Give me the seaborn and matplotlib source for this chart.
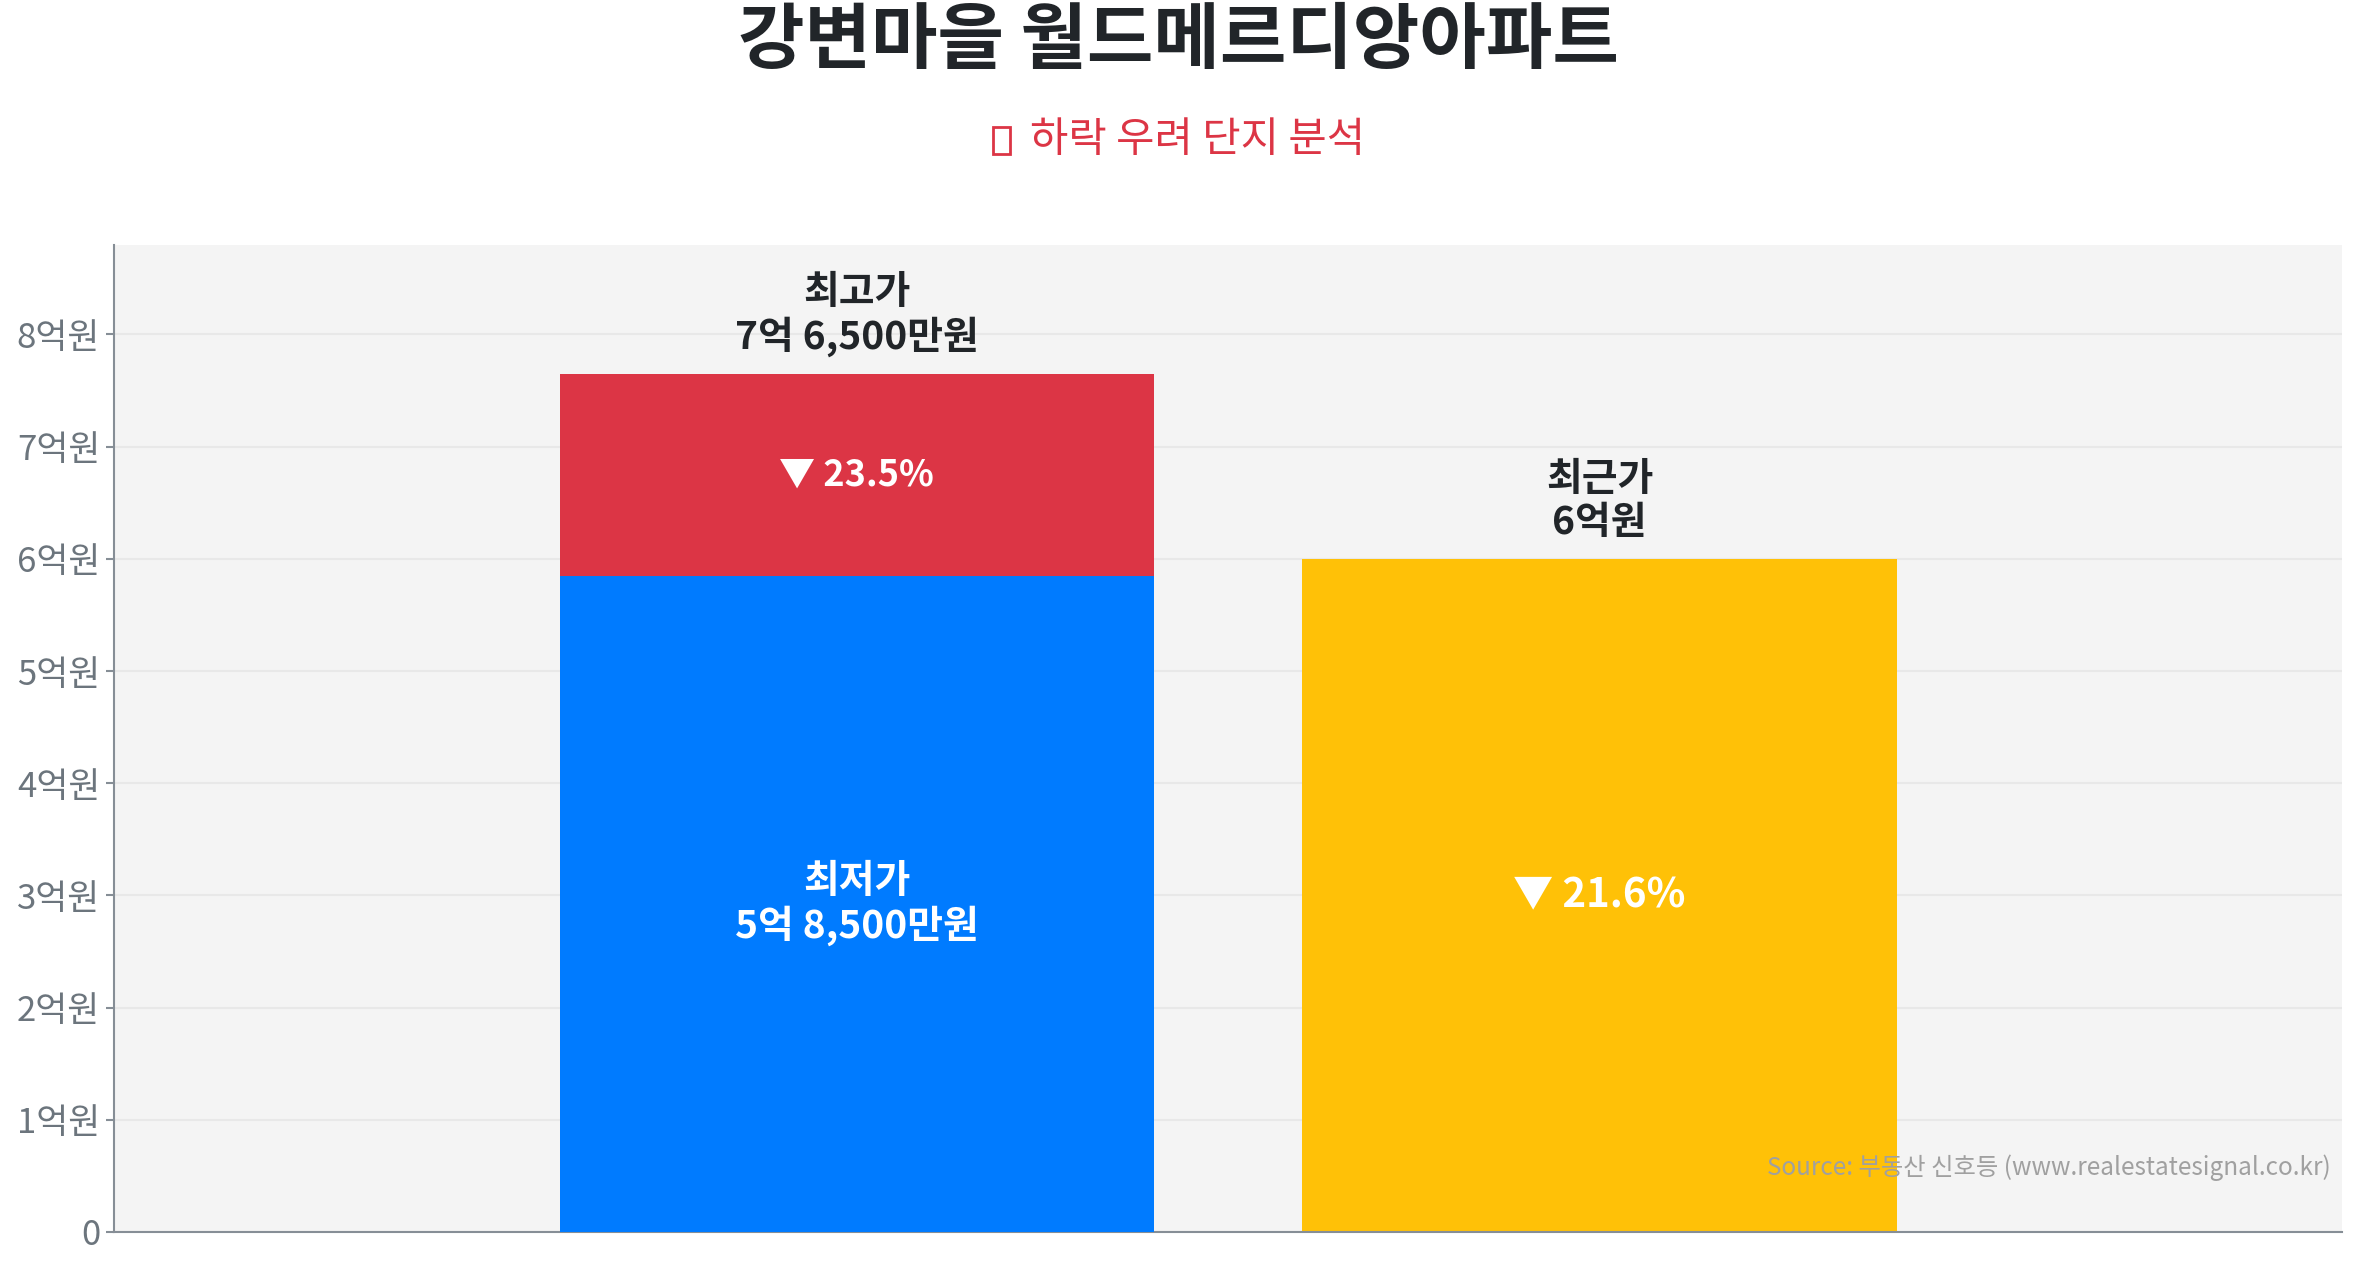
import matplotlib
matplotlib.use("Agg")
import matplotlib.pyplot as plt
from matplotlib.patches import Rectangle
import seaborn as sns

# prices in 만원
slots = ["최고가", "최근가"]
peak_price = 76500
low_price = 58500
recent_price = 60000

title_text = "강변마을 월드메르디앙아파트"
subtitle_text = "하락 우려 단지 분석"  # preceded by a chart emoji, drawn as an empty box
source_text = "Source: 부동산 신호등 (www.realestatesignal.co.kr)"
ytick_values = [0, 10000, 20000, 30000, 40000, 50000, 60000, 70000, 80000]

RED = "#dc3545"
BLUE = "#007bff"
YELLOW = "#ffc107"
DARK = "#212529"
GRAY = "#6c757d"

sns.set_theme(style="white")
plt.rcParams["font.family"] = ["Noto Sans CJK KR", "DejaVu Sans"]


def fmt_price(v):
    eok, man = divmod(int(v), 10000)
    if man:
        return f"{eok}억 {man:,}만원"
    return f"{eok}억원"


def fmt_tick(v):
    return "0" if v == 0 else f"{int(v // 10000)}억원"


fig = plt.figure(figsize=(23.57, 12.68), dpi=100)
ax = fig.add_axes([0.0484, 0.0284, 0.9453, 0.7784])
ax.set_facecolor("#f4f4f4")

# back layer: peak (red) and recent (yellow)
sns.barplot(x=slots, y=[peak_price, recent_price], hue=slots, palette=[RED, YELLOW],
            order=slots, width=0.8, saturation=1, legend=False, linewidth=0,
            ax=ax, zorder=2)
# front layer: lowest price inside the peak bar
sns.barplot(x=[slots[0]], y=[low_price], order=slots, color=BLUE,
            width=0.8, saturation=1, linewidth=0, ax=ax, zorder=3)

ax.set_xlim(-1, 2)
ax.set_ylim(0, peak_price * 1.15)
ax.set_xticks([])
ax.set_xlabel("")
ax.set_ylabel("")
ax.set_yticks(ytick_values)
ax.set_yticklabels([fmt_tick(v) for v in ytick_values])
ax.tick_params(axis="y", length=6, width=1.5, color="#868e96", labelcolor=GRAY,
               labelsize=25, pad=4, left=True)
ax.grid(axis="y", color="#e8e8e8", linewidth=1.5, zorder=0)
ax.set_axisbelow(True)
for side in ["top", "right"]:
    ax.spines[side].set_visible(False)
for side in ["left", "bottom"]:
    ax.spines[side].set_visible(True)
    ax.spines[side].set_color("#868e96")
    ax.spines[side].set_linewidth(1.5)

drop_peak = (peak_price - low_price) / peak_price * 100
drop_recent = (peak_price - recent_price) / peak_price * 100

# labels above bars
ax.annotate(f"최고가\n{fmt_price(peak_price)}", xy=(0, peak_price), xytext=(0, 12),
            textcoords="offset points", ha="center", va="bottom", fontsize=28,
            fontweight="bold", color=DARK, linespacing=1.15, zorder=5)
ax.annotate(f"최근가\n{fmt_price(recent_price)}", xy=(1, recent_price), xytext=(0, 12),
            textcoords="offset points", ha="center", va="bottom", fontsize=28,
            fontweight="bold", color=DARK, linespacing=1.15, zorder=5)

# labels inside bars
ax.text(0, (peak_price + low_price) / 2, f"▼ {drop_peak:.1f}%", ha="center", va="center",
        fontsize=26, fontweight="bold", color="white", zorder=5)
ax.text(0, low_price / 2, f"최저가\n{fmt_price(low_price)}", ha="center", va="center",
        fontsize=28, fontweight="bold", color="white", linespacing=1.15, zorder=5)
ax.text(1, recent_price / 2, f"▼ {drop_recent:.1f}%", ha="center", va="center",
        fontsize=29, fontweight="bold", color="white", zorder=5)

ax.text(0.995, 0.065, source_text, transform=ax.transAxes, ha="right", va="center",
        fontsize=17.5, color="#a0a0a0", zorder=6)

fig.text(0.5, 0.967, title_text, ha="center", va="center", fontsize=52,
         fontweight="bold", color=DARK)
# the emoji has no glyph in any installed font: draw its empty box
fig.add_artist(Rectangle((0.4212, 0.8785), 0.0072, 0.0215, transform=fig.transFigure,
                         fill=False, edgecolor=RED, linewidth=2))
fig.text(0.437, 0.889, subtitle_text, ha="left", va="center", fontsize=30, color=RED)

fig.savefig("out.png", dpi=100, facecolor="white")
